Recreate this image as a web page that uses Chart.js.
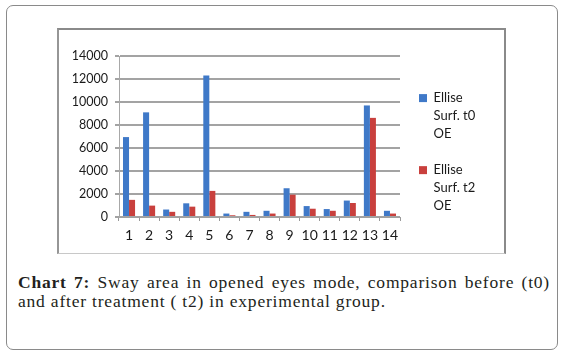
<!DOCTYPE html>
<html>
<head>
<meta charset="utf-8">
<script src="https://cdn.jsdelivr.net/npm/chart.js@4.4.1/dist/chart.umd.min.js"></script>
<style>
  html, body { margin: 0; padding: 0; background: #fff; width: 566px; height: 356px; overflow: hidden; }
  #outer { position: absolute; left: 6px; top: 5px; width: 552px; height: 345px; box-sizing: border-box;
           border: 1.5px solid #8a8a8a; border-radius: 7px; }
  #inner { position: absolute; left: 57px; top: 28px; width: 449px; height: 226px; box-sizing: border-box;
           border-top: 2px solid #8a8a8a; border-left: 2px solid #969696; border-right: 2px solid #8a8a8a; border-bottom: 1px solid #c8c8c8; }
  #chart { position: absolute; left: 57px; top: 28px; }
  .cap { position: absolute; left: 18px; width: 532px; font-family: "Liberation Serif", "DejaVu Serif", serif;
         font-size: 17.5px; line-height: 20px; color: #231f20; letter-spacing: 0.8px; white-space: nowrap; }
  #cap1 { top: 272px; text-align: justify; text-align-last: justify; white-space: normal; }
  #cap2 { top: 291px; text-align: left; }
</style>
</head>
<body>
<div id="outer"></div>
<div id="inner"></div>
<canvas id="chart" width="449" height="226"></canvas>
<div id="cap1" class="cap"><b>Chart 7:</b> Sway area in opened eyes mode, comparison before (t0)</div>
<div id="cap2" class="cap">and after treatment ( t2) in experimental group.</div>
<script>
const categories = ["1","2","3","4","5","6","7","8","9","10","11","12","13","14"];
const surfT0 = [6950, 9100, 650, 1190, 12300, 300, 450, 540, 2500, 950, 690, 1430, 9700, 540];
const surfT2 = [1490, 990, 450, 900, 2270, 150, 180, 300, 1940, 720, 540, 1220, 8620, 300];
const labelT0 = ["Ellise", "Surf. t0", "OE"];
const labelT2 = ["Ellise", "Surf. t2", "OE"];
const yTicks = { min: 0, max: 14000, step: 2000 };

const legendWidthPlugin = {
  id: 'legendWidth',
  beforeLayout(chart) {
    const lg = chart.legend;
    if (lg && !lg._wrappedFit) {
      const fit = lg.fit;
      lg.fit = function () { fit.call(this); this.width = 104; };
      lg._wrappedFit = true;
    }
  }
};

const font = { family: "Lato, 'Open Sans', sans-serif" };
new Chart(document.getElementById('chart'), {
  type: 'bar',
  data: {
    labels: categories,
    datasets: [
      { label: labelT0, data: surfT0, backgroundColor: '#3f79c8', borderWidth: 0 },
      { label: labelT2, data: surfT2, backgroundColor: '#c9403d', borderWidth: 0 }
    ]
  },
  options: {
    responsive: false,
    animation: false,
    devicePixelRatio: 1,
    layout: { padding: { top: 28, left: 0, right: 2, bottom: 0 } },
    datasets: { bar: { categoryPercentage: 0.6, barPercentage: 1.0 } },
    plugins: {
      tooltip: { enabled: false },
      legend: {
        position: 'right',
        align: 'start',
        title: { display: true, text: ' ', font: { size: 13 }, padding: { top: 0, bottom: 1 } },
        labels: {
          boxWidth: 8, boxHeight: 8, padding: 19, color: '#1a1a1a',
          font: { ...font, size: 13, lineHeight: 1.36 }
        }
      }
    },
    scales: {
      x: {
        grid: { display: true, drawOnChartArea: false, drawTicks: true, tickLength: 4, color: '#9a9a9a', offset: true },
        border: { display: true, color: '#a0a0a0', width: 1 },
        ticks: { color: '#1a1a1a', font: { ...font, size: 14 }, padding: 6, maxRotation: 0, autoSkip: false },
        afterFit(s) { s.height = 37; }
      },
      y: {
        min: yTicks.min, max: yTicks.max,
        grid: { color: '#a3a3a3', lineWidth: 2, tickLength: 4, drawTicks: true },
        border: { display: true, color: '#a8a8a8', width: 1 },
        ticks: { stepSize: yTicks.step, color: '#1a1a1a', font: { ...font, size: 12.5 }, padding: 7,
                 callback: (v) => String(v) },
        afterFit(s) { s.width = 62; }
      }
    }
  },
  plugins: [legendWidthPlugin]
});
</script>
</body>
</html>
